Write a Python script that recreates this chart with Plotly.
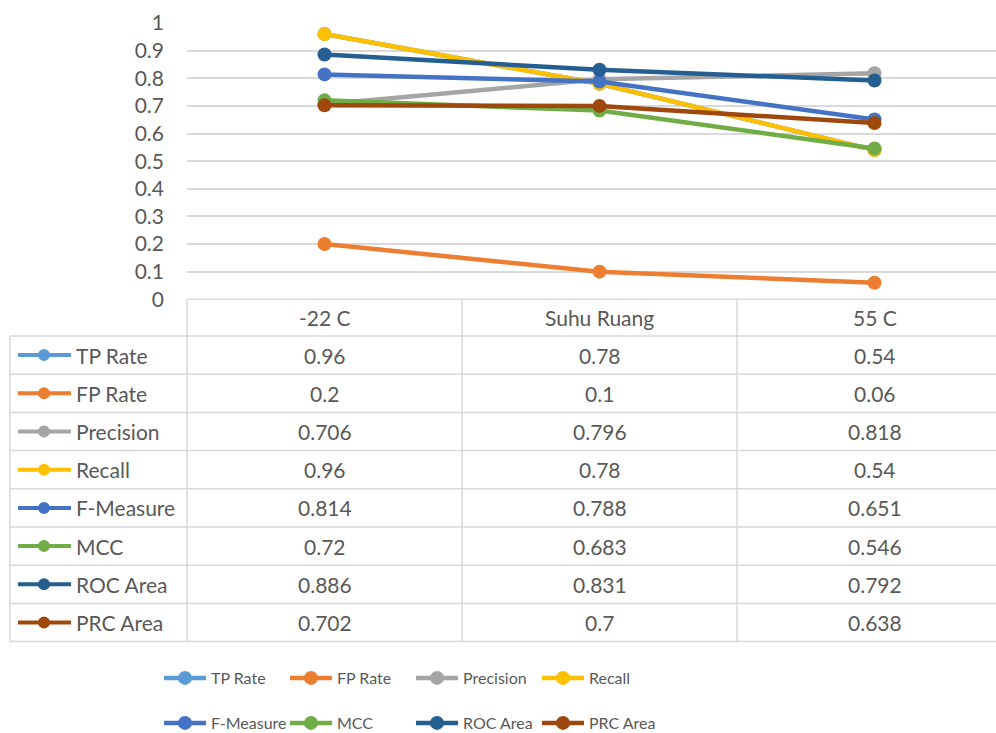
import plotly.graph_objects as go

categories = ["-22 C", "Suhu Ruang", "55 C"]
series_names = ["TP Rate", "FP Rate", "Precision", "Recall", "F-Measure", "MCC", "ROC Area", "PRC Area"]
tp_rate = [0.96, 0.78, 0.54]
fp_rate = [0.2, 0.1, 0.06]
precision = [0.706, 0.796, 0.818]
recall = [0.96, 0.78, 0.54]
f_measure = [0.814, 0.788, 0.651]
mcc = [0.72, 0.683, 0.546]
roc_area = [0.886, 0.831, 0.792]
prc_area = [0.702, 0.7, 0.638]
table_labels = [["0.96", "0.78", "0.54"], ["0.2", "0.1", "0.06"], ["0.706", "0.796", "0.818"],
                ["0.96", "0.78", "0.54"], ["0.814", "0.788", "0.651"], ["0.72", "0.683", "0.546"],
                ["0.886", "0.831", "0.792"], ["0.702", "0.7", "0.638"]]
y_ticks = [0, 0.1, 0.2, 0.3, 0.4, 0.5, 0.6, 0.7, 0.8, 0.9, 1]
y_tick_labels = ["0", "0.1", "0.2", "0.3", "0.4", "0.5", "0.6", "0.7", "0.8", "0.9", "1"]

values = [tp_rate, fp_rate, precision, recall, f_measure, mcc, roc_area, prc_area]
colors = ["#5B9BD5", "#ED7D31", "#A5A5A5", "#FFC000", "#4472C4", "#70AD47", "#255E91", "#9E480E"]

W, H = 996, 733
L, T, B = 187, 23, 641
PW, PH = W - L, B - T
COLW = 275
Y0 = 299.3
FONT = "Lato"
FS = 21
LFS = 16
TXT = "#595959"
GRID = "#D9D9D9"


def fx(px):
    return (px - L) / PW


def fy(py):
    return (B - py) / PH


def cx(px):
    return px / W


def cy(py):
    return 1 - py / H


fig = go.Figure()
for i, (name, vals, col) in enumerate(zip(series_names, values, colors)):
    fig.add_trace(go.Scatter(
        x=categories, y=vals, name=name, mode="lines+markers",
        line=dict(color=col, width=4.5), marker=dict(color=col, size=14),
        legend="legend" if i < 4 else "legend2", cliponaxis=False, hoverinfo="skip",
    ))

shapes = []
row_tops = [336 + k * 38.2 for k in range(9)]
shapes.append(dict(type="line", xref="paper", yref="paper", x0=0, x1=1.02, y0=fy(Y0), y1=fy(Y0),
                   line=dict(color=GRID, width=1.5)))
for yy in row_tops:
    shapes.append(dict(type="line", xref="paper", yref="paper", x0=fx(10), x1=1.02, y0=fy(yy), y1=fy(yy),
                       line=dict(color=GRID, width=1.5)))
for k in range(3):
    xx = L + k * COLW
    shapes.append(dict(type="line", xref="paper", yref="paper", x0=fx(xx), x1=fx(xx), y0=fy(Y0), y1=fy(row_tops[-1]),
                       line=dict(color=GRID, width=1.5)))
shapes.append(dict(type="line", xref="paper", yref="paper", x0=fx(10), x1=fx(10), y0=fy(row_tops[0]),
                   y1=fy(row_tops[-1]), line=dict(color=GRID, width=1.5)))

annotations = []
for j, c in enumerate(categories):
    annotations.append(dict(x=c, xref="x", y=fy((Y0 + row_tops[0]) / 2), yref="paper", text=c,
                            showarrow=False, font=dict(family=FONT, size=FS, color=TXT),
                            xanchor="center", yanchor="middle"))
for r, name in enumerate(series_names):
    yc = (row_tops[r] + row_tops[r + 1]) / 2
    for j, c in enumerate(categories):
        annotations.append(dict(x=c, xref="x", y=fy(yc), yref="paper", text=table_labels[r][j],
                                showarrow=False, font=dict(family=FONT, size=FS, color=TXT),
                                xanchor="center", yanchor="middle"))
    annotations.append(dict(x=fx(74), xref="paper", y=fy(yc), yref="paper", text=name,
                            showarrow=False, font=dict(family=FONT, size=FS, color=TXT),
                            xanchor="left", yanchor="middle"))
    shapes.append(dict(type="line", xref="paper", yref="paper", x0=fx(18), x1=fx(71), y0=fy(yc), y1=fy(yc),
                       line=dict(color=colors[r], width=4)))
    shapes.append(dict(type="circle", xref="paper", yref="paper", x0=fx(44 - 6), x1=fx(44 + 6),
                       y0=fy(yc - 6), y1=fy(yc + 6), fillcolor=colors[r], line=dict(color=colors[r], width=0)))

legend_common = dict(orientation="h", font=dict(family=FONT, size=LFS, color=TXT), bgcolor="rgba(0,0,0,0)",
                     itemwidth=42, entrywidth=69, entrywidthmode="pixels", xanchor="left", yanchor="middle",
                     traceorder="normal", itemclick=False, xref="container", yref="container")

fig.update_layout(
    width=W, height=H,
    margin=dict(l=L, r=0, t=T, b=H - B, pad=0, autoexpand=False),
    paper_bgcolor="white", plot_bgcolor="white",
    font=dict(family=FONT, size=FS, color=TXT),
    hovermode=False,
    xaxis=dict(type="category", range=[-0.5, -0.5 + PW / COLW], showgrid=False, showticklabels=False,
               zeroline=False, showline=False, ticks=""),
    yaxis=dict(domain=[fy(Y0), 1], range=[0, 1], tickvals=y_ticks, ticktext=y_tick_labels,
               showgrid=True, gridcolor=GRID, gridwidth=1.5, zeroline=False, showline=False, ticks="",
               ticklabelstandoff=22, tickfont=dict(family=FONT, size=FS, color=TXT)),
    legend=dict(x=cx(159), y=cy(678), **legend_common),
    legend2=dict(x=cx(159), y=cy(723), **legend_common),
    shapes=shapes,
    annotations=annotations,
    showlegend=True,
)

post = (
    "var gd=document.getElementById('{plot_id}');"
    "document.documentElement.style.margin='0';document.body.style.margin='0';"
    "document.documentElement.style.overflow='hidden';document.body.style.overflow='hidden';"
    "gd.parentElement.style.height='733px';gd.parentElement.style.overflow='hidden';"
)
fig.write_html("out.html", config={"displayModeBar": False}, post_script=post)
